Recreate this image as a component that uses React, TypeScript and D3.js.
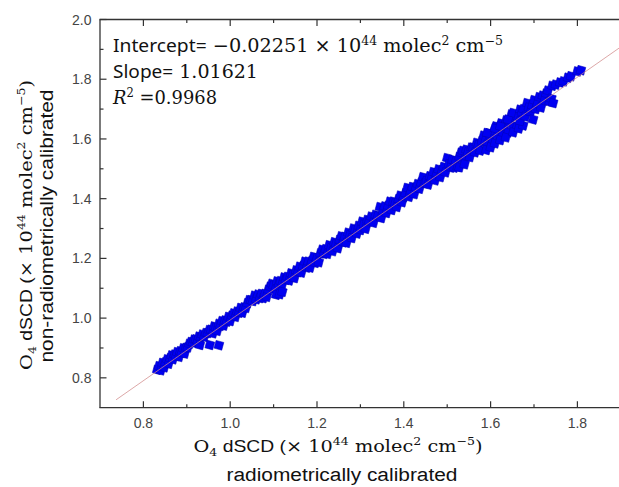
import React from "react";
import * as d3 from "d3";

// Radiometrically calibrated O4 dSCD (x) vs non-radiometrically calibrated (y), 1e44 molec^2 cm^-5
const radiometric = [
  0.832, 0.836, 0.840, 0.844, 0.848, 0.851, 0.855, 0.858, 0.862, 0.865, 0.868, 0.872, 0.875, 0.878, 0.882, 0.885, 0.888, 0.892, 0.895, 0.898,
  0.902, 0.906, 0.910, 0.914, 0.917, 0.921, 0.925, 0.928, 0.932, 0.936, 0.940, 0.944, 0.948, 0.952,
  0.930, 0.953, 0.974,
  0.956, 0.960, 0.963, 0.967, 0.970, 0.974, 0.977, 0.981, 0.985, 0.988, 0.992, 0.996, 1.000, 1.004, 1.008, 1.012, 1.016, 1.020, 1.024, 1.028, 1.032, 1.036,
  1.040, 1.044, 1.048, 1.052, 1.056, 1.060, 1.064, 1.068, 1.072, 1.076,
  1.080, 1.084, 1.088, 1.092, 1.096, 1.100, 1.104, 1.108, 1.112, 1.116, 1.120, 1.124, 1.128, 1.106, 1.114, 1.120,
  1.132, 1.136, 1.140, 1.144, 1.148, 1.152, 1.156, 1.160, 1.164, 1.168, 1.172, 1.176, 1.180, 1.184, 1.188, 1.192, 1.196, 1.200, 1.204, 1.208, 1.212, 1.216,
  1.220, 1.224, 1.228, 1.232, 1.236, 1.240, 1.244, 1.248, 1.252, 1.256, 1.260, 1.264, 1.268, 1.272, 1.276, 1.280, 1.284, 1.288, 1.292, 1.296, 1.300, 1.304, 1.308, 1.312, 1.316,
  1.320, 1.325, 1.330, 1.335, 1.340, 1.345, 1.348, 1.352, 1.356, 1.360, 1.364, 1.368, 1.372, 1.376, 1.380, 1.384, 1.388, 1.392, 1.396, 1.400, 1.404, 1.408, 1.412, 1.416, 1.420, 1.424, 1.428, 1.432, 1.436, 1.440, 1.444, 1.448,
  1.452, 1.456, 1.460, 1.464, 1.468, 1.472, 1.476, 1.480, 1.484, 1.488, 1.492, 1.496, 1.500, 1.504, 1.508, 1.512, 1.516, 1.520, 1.524, 1.528, 1.532, 1.536, 1.540, 1.544, 1.548, 1.552, 1.556, 1.528, 1.540,
  1.560, 1.564, 1.568, 1.572, 1.576, 1.580, 1.584, 1.588, 1.592, 1.596, 1.600, 1.604, 1.608, 1.612, 1.616, 1.620, 1.624, 1.628, 1.632, 1.636, 1.640, 1.644, 1.648, 1.652, 1.656, 1.660,
  1.590, 1.600, 1.610, 1.622, 1.635, 1.652, 1.665, 1.675, 1.592, 1.610, 1.622, 1.640, 1.652, 1.668,
  1.664, 1.668, 1.672, 1.676, 1.680, 1.684, 1.688, 1.692, 1.696, 1.698, 1.700, 1.704, 1.708, 1.712, 1.716, 1.720, 1.724, 1.728, 1.732, 1.736, 1.740, 1.744,
  1.742, 1.750, 1.760, 1.768, 1.778, 1.785, 1.800, 1.808,
];
const nonRadiometric = [
  0.827, 0.839, 0.825, 0.850, 0.835, 0.852, 0.862, 0.847, 0.866, 0.875, 0.862, 0.878, 0.873, 0.886, 0.870, 0.889, 0.884, 0.899, 0.881, 0.900,
  0.902, 0.914, 0.920, 0.918, 0.928, 0.929, 0.924, 0.938, 0.935, 0.945, 0.937, 0.950, 0.950, 0.960,
  0.910, 0.910, 0.909,
  0.961, 0.949, 0.972, 0.968, 0.957, 0.981, 0.974, 0.990, 0.975, 0.992, 0.988, 1.004, 0.990, 1.008, 1.016, 1.004, 1.022, 1.018, 1.034, 1.018, 1.036, 1.034,
  1.050, 1.060, 1.060, 1.057, 1.075, 1.063, 1.079, 1.067, 1.081, 1.067,
  1.081, 1.071, 1.095, 1.105, 1.115, 1.109, 1.095, 1.123, 1.114, 1.124, 1.114, 1.136, 1.128, 1.078, 1.080, 1.088,
  1.138, 1.126, 1.150, 1.144, 1.134, 1.160, 1.154, 1.172, 1.152, 1.174, 1.189, 1.169, 1.189, 1.169, 1.191, 1.205, 1.185, 1.201, 1.187, 1.217, 1.229, 1.215,
  1.231, 1.215, 1.244, 1.234, 1.224, 1.254, 1.248, 1.234, 1.262, 1.274, 1.254, 1.272, 1.252, 1.286, 1.278, 1.268, 1.300, 1.295, 1.283, 1.309, 1.295, 1.323, 1.313, 1.299, 1.329,
  1.325, 1.340, 1.319, 1.346, 1.341, 1.372, 1.335, 1.359, 1.374, 1.352, 1.376, 1.390, 1.362, 1.390, 1.384, 1.372, 1.398, 1.410, 1.388, 1.406, 1.418, 1.436, 1.406, 1.426, 1.439, 1.415, 1.437, 1.449, 1.433, 1.453, 1.472, 1.451,
  1.459, 1.447, 1.475, 1.469, 1.489, 1.461, 1.485, 1.498, 1.472, 1.494, 1.506, 1.488, 1.536, 1.516, 1.504, 1.530, 1.504, 1.526, 1.506, 1.540, 1.554, 1.560, 1.530, 1.564, 1.555, 1.539, 1.571, 1.505, 1.515,
  1.571, 1.555, 1.587, 1.579, 1.561, 1.593, 1.611, 1.593, 1.581, 1.619, 1.610, 1.588, 1.626, 1.642, 1.612, 1.636, 1.652, 1.616, 1.642, 1.662, 1.622, 1.658, 1.682, 1.644, 1.678, 1.639,
  1.563, 1.572, 1.585, 1.596, 1.605, 1.622, 1.635, 1.645, 1.620, 1.635, 1.642, 1.665, 1.687, 1.698,
  1.672, 1.660, 1.690, 1.700, 1.675, 1.720, 1.705, 1.690, 1.712, 1.665, 1.730, 1.700, 1.718, 1.740, 1.705, 1.745, 1.728, 1.752, 1.762, 1.725, 1.735, 1.720,
  1.778, 1.782, 1.789, 1.793, 1.805, 1.810, 1.826, 1.830,
];

const fitIntercept = -0.02251;
const fitSlope = 1.01621;
const fitR2 = "0.9968";
const fitRange = [0.737, 1.92];

const xMajorTicks = [0.8, 1.0, 1.2, 1.4, 1.6, 1.8];
const xMinorTicks = [0.9, 1.1, 1.3, 1.5, 1.7];
const yMajorTicks = [0.8, 1.0, 1.2, 1.4, 1.6, 1.8, 2.0];
const yMinorTicks = [0.9, 1.1, 1.3, 1.5, 1.7, 1.9];

const W = 619;
const H = 487;
const SANS = "'Liberation Sans', Arial, sans-serif";
const UI = "'Noto Sans', 'Open Sans', sans-serif";
const SERIF = "'DejaVu Serif', 'Liberation Serif', serif";

export default function App() {
  const x = d3.scaleLinear().domain([0.7, 1.9]).range([100, 620.8]);
  const y = d3.scaleLinear().domain([0.7, 2.0]).range([407.7, 19.5]);
  const left = x(0.7);
  const bottom = y(0.7);
  const top = y(2.0);
  const axisColor = "#333";
  const majorLen = 6.5;
  const minorLen = 3.5;
  const fit = (v: number) => fitIntercept + fitSlope * v;
  const fitLine = d3.line<number>().x((v) => x(v)).y((v) => y(fit(v)))(fitRange) || "";
  const pts = radiometric.map((v, i) => [v, nonRadiometric[i]] as [number, number]);
  const ms = 8;

  return (
    <svg
      width={W}
      height={H}
      style={{ position: "absolute", left: 0, top: 0, background: "#fff" }}
      viewBox={`0 0 ${W} ${H}`}
    >
      <rect x={0} y={0} width={W} height={H} fill="#fff" />
      <defs>
        <clipPath id="plotClip">
          <rect x={left} y={top} width={W - left} height={bottom - top} />
        </clipPath>
      </defs>

      {/* points */}
      <g>
        {pts.map(([a, b], i) => (
          <rect
            key={i}
            x={-ms / 2}
            y={-ms / 2}
            width={ms}
            height={ms}
            fill="#0000f2"
            stroke="#0000b8"
            strokeWidth={0.5}
            transform={`translate(${x(a)},${y(b)}) rotate(15)`}
          />
        ))}
      </g>

      {/* fit line */}
      <path d={fitLine} fill="none" stroke="#d08a8a" strokeOpacity={0.75} strokeWidth={1} clipPath="url(#plotClip)" />

      {/* axes frame */}
      <line x1={left} x2={left} y1={top} y2={bottom} stroke={axisColor} strokeWidth={1.3} />
      <line x1={left - 0.6} x2={W} y1={bottom} y2={bottom} stroke={axisColor} strokeWidth={1.3} />
      <line x1={left - 0.6} x2={W} y1={top} y2={top} stroke={axisColor} strokeWidth={1.3} />

      {/* x ticks bottom & top */}
      {xMajorTicks.map((t) => (
        <g key={"xm" + t}>
          <line x1={x(t)} x2={x(t)} y1={bottom} y2={bottom - majorLen} stroke={axisColor} strokeWidth={1.2} />
          <line x1={x(t)} x2={x(t)} y1={top} y2={top + majorLen} stroke={axisColor} strokeWidth={1.2} />
          <text x={x(t)} y={428} textAnchor="middle" fontFamily={SANS} fontSize={14} fill="#444">
            {t.toFixed(1)}
          </text>
        </g>
      ))}
      {xMinorTicks.map((t) => (
        <g key={"xn" + t}>
          <line x1={x(t)} x2={x(t)} y1={bottom} y2={bottom - minorLen} stroke={axisColor} strokeWidth={1.2} />
          <line x1={x(t)} x2={x(t)} y1={top} y2={top + minorLen} stroke={axisColor} strokeWidth={1.2} />
        </g>
      ))}

      {/* y ticks */}
      {yMajorTicks.map((t) => (
        <g key={"ym" + t}>
          <line x1={left} x2={left + majorLen} y1={y(t)} y2={y(t)} stroke={axisColor} strokeWidth={1.2} />
          <text x={91.5} y={y(t) + 5} textAnchor="end" fontFamily={SANS} fontSize={14} fill="#444">
            {t.toFixed(1)}
          </text>
        </g>
      ))}
      {yMinorTicks.map((t) => (
        <line key={"yn" + t} x1={left} x2={left + minorLen} y1={y(t)} y2={y(t)} stroke={axisColor} strokeWidth={1.2} />
      ))}

      {/* annotation */}
      <g fill="#111">
        <text x={113} y={52} fontSize={18.5} textLength={390} lengthAdjust="spacingAndGlyphs">
          <tspan fontFamily={UI}>Intercept=</tspan>
          <tspan fontFamily={SERIF}> −0.02251 × 10</tspan>
          <tspan fontFamily={SERIF} fontSize={12} dy={-7}>44</tspan>
          <tspan fontFamily={SERIF} dy={7}> molec</tspan>
          <tspan fontFamily={SERIF} fontSize={12} dy={-7}>2</tspan>
          <tspan fontFamily={SERIF} dy={7}> cm</tspan>
          <tspan fontFamily={SERIF} fontSize={12} dy={-7}>−5</tspan>
        </text>
        <text x={113} y={78} fontSize={18.5} textLength={145} lengthAdjust="spacingAndGlyphs">
          <tspan fontFamily={UI}>Slope=</tspan>
          <tspan fontFamily={SERIF}> {fitSlope.toFixed(5)}</tspan>
        </text>
        <text x={113} y={104} fontSize={18.5} textLength={104} lengthAdjust="spacingAndGlyphs">
          <tspan fontFamily={SERIF} fontStyle="italic">R</tspan>
          <tspan fontFamily={SERIF} fontSize={12} dy={-7}>2</tspan>
          <tspan fontFamily={SERIF} dy={7}> ={fitR2}</tspan>
        </text>
      </g>

      {/* x axis title */}
      <g fill="#111">
        <text x={338} y={452} textAnchor="middle" fontSize={17} textLength={289} lengthAdjust="spacingAndGlyphs">
          <tspan fontFamily={SERIF}>O</tspan>
          <tspan fontFamily={SERIF} fontSize={11} dy={4}>4</tspan>
          <tspan fontFamily={SANS} dy={-4}> dSCD (</tspan>
          <tspan fontFamily={SERIF}>× 10</tspan>
          <tspan fontFamily={SERIF} fontSize={11} dy={-7}>44</tspan>
          <tspan fontFamily={SERIF} dy={7}> molec</tspan>
          <tspan fontFamily={SERIF} fontSize={11} dy={-7}>2</tspan>
          <tspan fontFamily={SERIF} dy={7}> cm</tspan>
          <tspan fontFamily={SERIF} fontSize={11} dy={-7}>−5</tspan>
          <tspan fontFamily={SERIF} dy={7}>)</tspan>
        </text>
        <text x={342} y={481} textAnchor="middle" fontFamily={SANS} fontSize={18} textLength={231} lengthAdjust="spacingAndGlyphs">
          radiometrically calibrated
        </text>
      </g>

      {/* y axis title */}
      <g fill="#111">
        <text
          transform="translate(32,225) rotate(-90)"
          textAnchor="middle"
          fontSize={17}
          textLength={290}
          lengthAdjust="spacingAndGlyphs"
        >
          <tspan fontFamily={SERIF}>O</tspan>
          <tspan fontFamily={SERIF} fontSize={11} dy={4}>4</tspan>
          <tspan fontFamily={SANS} dy={-4}> dSCD (</tspan>
          <tspan fontFamily={SERIF}>× 10</tspan>
          <tspan fontFamily={SERIF} fontSize={11} dy={-7}>44</tspan>
          <tspan fontFamily={SERIF} dy={7}> molec</tspan>
          <tspan fontFamily={SERIF} fontSize={11} dy={-7}>2</tspan>
          <tspan fontFamily={SERIF} dy={7}> cm</tspan>
          <tspan fontFamily={SERIF} fontSize={11} dy={-7}>−5</tspan>
          <tspan fontFamily={SERIF} dy={7}>)</tspan>
        </text>
        <text
          transform="translate(53,226) rotate(-90)"
          textAnchor="middle"
          fontFamily={SANS}
          fontSize={18}
          textLength={273}
          lengthAdjust="spacingAndGlyphs"
        >
          non-radiometrically calibrated
        </text>
      </g>
    </svg>
  );
}
